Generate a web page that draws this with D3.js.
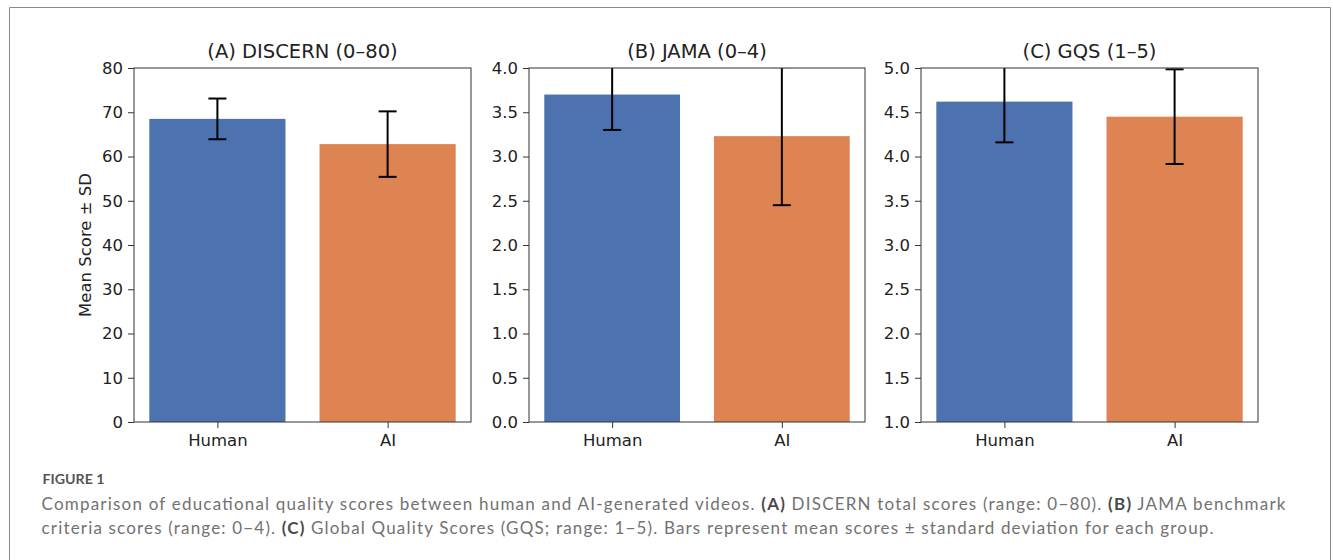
<!DOCTYPE html>
<html><head><meta charset="utf-8">
<script src="https://cdn.jsdelivr.net/npm/d3@7"></script>
<style>body{margin:0;background:#fff}svg{display:block}</style>
</head><body>
<script>
const groups = ["Human", "AI"];
const panelTitles = ["(A) DISCERN (0–80)", "(B) JAMA (0–4)", "(C) GQS (1–5)"];
const discernMeans = [68.5, 62.8];
const discernSD = [4.6, 7.4];
const jamaMeans = [3.70, 3.23];
const jamaSD = [0.40, 0.78];
const gqsMeans = [4.62, 4.45];
const gqsSD = [0.46, 0.535];
const discernTicks = [0, 10, 20, 30, 40, 50, 60, 70, 80];
const jamaTicks = [0, 0.5, 1.0, 1.5, 2.0, 2.5, 3.0, 3.5, 4.0];
const gqsTicks = [1.0, 1.5, 2.0, 2.5, 3.0, 3.5, 4.0, 4.5, 5.0];
const barColors = ["#4c72b0", "#dd8452"];
const yLabel = "Mean Score ± SD";
const captionHead = "FIGURE 1";
const captionLines = [
  [["Comparison of educational quality scores between human and AI-generated videos. ", false], ["(A)", true], [" DISCERN total scores (range: 0−80). ", false], ["(B)", true], [" JAMA benchmark", false]],
  [["criteria scores (range: 0−4). ", false], ["(C)", true], [" Global Quality Scores (GQS; range: 1−5). Bars represent mean scores ± standard deviation for each group.", false]]
];

const W = 1333, H = 560;
const svg = d3.select("body").append("svg").attr("width", W).attr("height", H);

// outer frame
svg.append("path").attr("d", `M9.5,${H} V7.5 H1330.5 V${H}`)
  .attr("fill", "none").attr("stroke", "#8a8a8a").attr("stroke-width", 1);

const panels = [
  {title: panelTitles[0], means: discernMeans, sds: discernSD, ticks: discernTicks, dom: [0, 80], fmt: d3.format("d"), x0: 134, x1: 471},
  {title: panelTitles[1], means: jamaMeans, sds: jamaSD, ticks: jamaTicks, dom: [0, 4], fmt: d3.format(".1f"), x0: 529, x1: 865},
  {title: panelTitles[2], means: gqsMeans, sds: gqsSD, ticks: gqsTicks, dom: [1, 5], fmt: d3.format(".1f"), x0: 921, x1: 1258}
];
const plotTop = 68, plotBottom = 422;
const font = "DejaVu Sans, sans-serif";

panels.forEach((p, pi) => {
  const x = d3.scaleLinear().domain([-0.49, 1.49]).range([p.x0, p.x1]);
  const y = d3.scaleLinear().domain(p.dom).range([plotBottom, plotTop]);
  const g = svg.append("g");
  const clipId = "clip" + pi;
  svg.append("clipPath").attr("id", clipId).append("rect")
    .attr("x", p.x0).attr("y", plotTop).attr("width", p.x1 - p.x0).attr("height", plotBottom - plotTop);
  const plot = g.append("g").attr("clip-path", `url(#${clipId})`);

  plot.selectAll("rect.bar").data(groups).join("rect").attr("class", "bar")
    .attr("x", (d, i) => x(i - 0.4))
    .attr("width", (d, i) => x(i + 0.4) - x(i - 0.4))
    .attr("y", (d, i) => y(p.means[i]))
    .attr("height", (d, i) => y(p.dom[0]) - y(p.means[i]))
    .attr("fill", (d, i) => barColors[i]);

  const eb = plot.selectAll("g.eb").data(groups).join("g").attr("class", "eb")
    .attr("stroke", "#000").attr("stroke-width", 2);
  eb.append("line").attr("x1", (d, i) => x(i)).attr("x2", (d, i) => x(i))
    .attr("y1", (d, i) => y(p.means[i] - p.sds[i])).attr("y2", (d, i) => y(p.means[i] + p.sds[i]));
  eb.append("line").attr("x1", (d, i) => x(i) - 9).attr("x2", (d, i) => x(i) + 9)
    .attr("y1", (d, i) => y(p.means[i] - p.sds[i])).attr("y2", (d, i) => y(p.means[i] - p.sds[i]));
  eb.append("line").attr("x1", (d, i) => x(i) - 9).attr("x2", (d, i) => x(i) + 9)
    .attr("y1", (d, i) => y(p.means[i] + p.sds[i])).attr("y2", (d, i) => y(p.means[i] + p.sds[i]));

  // axes
  const ya = g.append("g").attr("transform", `translate(${p.x0},0)`)
    .call(d3.axisLeft(y).tickValues(p.ticks).tickFormat(p.fmt).tickSize(6).tickPadding(5));
  const xa = g.append("g").attr("transform", `translate(0,${plotBottom})`)
    .call(d3.axisBottom(x).tickValues([0, 1]).tickFormat(i => groups[i]).tickSize(6).tickPadding(6.5));
  [ya, xa].forEach(a => {
    a.select(".domain").remove();
    a.selectAll("line").attr("stroke", "#333").attr("stroke-width", 1);
    a.selectAll("text").attr("fill", "#222").attr("font-family", font).attr("font-size", 16.5);
  });
  // spines
  g.append("rect").attr("x", p.x0).attr("y", plotTop).attr("width", p.x1 - p.x0).attr("height", plotBottom - plotTop)
    .attr("fill", "none").attr("stroke", "#333").attr("stroke-width", 1);

  g.append("text").attr("x", (p.x0 + p.x1) / 2).attr("y", 57.5).attr("text-anchor", "middle")
    .attr("font-family", font).attr("font-size", 19.5).attr("fill", "#222").text(p.title);
});

svg.append("text").attr("transform", `translate(91,${(plotTop + plotBottom) / 2}) rotate(-90)`)
  .attr("text-anchor", "middle").attr("font-family", font).attr("font-size", 16.5).attr("fill", "#222")
  .text(yLabel);

// caption
const capFont = "Lato, 'Open Sans', sans-serif";
svg.append("text").attr("x", 42.5).attr("y", 484.3).attr("font-family", capFont).attr("font-size", 14)
  .attr("font-weight", 700).attr("fill", "#555").attr("textLength", 62).attr("lengthAdjust", "spacingAndGlyphs")
  .text(captionHead);
const lineWidths = [1244, 1172];
captionLines.forEach((ln, li) => {
  const t = svg.append("text").attr("x", 41.5).attr("y", 510 + li * 24).attr("font-family", capFont)
    .attr("font-size", 17).attr("fill", "#727272")
    .attr("textLength", lineWidths[li]).attr("lengthAdjust", "spacing");
  ln.forEach(([s, b]) => {
    t.append("tspan").text(s).attr("font-weight", b ? 700 : 400).attr("fill", b ? "#4a4a4a" : null);
  });
});
</script>
</body></html>
